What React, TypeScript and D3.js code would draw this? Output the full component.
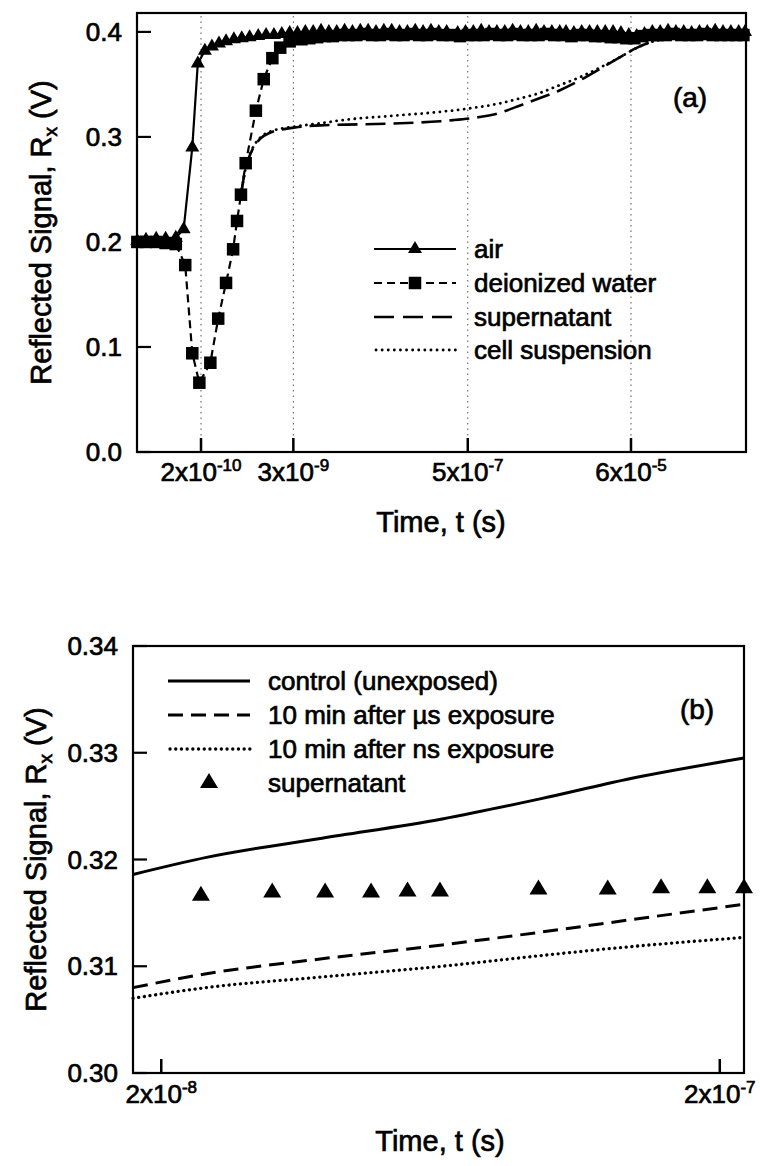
import React from "react";
import * as d3 from "d3";

// ---------------- Panel (a) data (time given as log10(t / s)) ----------------
const airLogT = [
  -10.51, -10.4, -10.27, -10.15, -10.02, -9.92, -9.81, -9.74, -9.65, -9.56, -9.47, -9.38, -9.28, -9.18, -9.08, -8.97, -8.87, -8.77, -8.67, -8.57,
  -8.47, -8.37, -8.27, -8.17, -8.07, -7.97, -7.87, -7.77, -7.67, -7.57, -7.47, -7.37, -7.27, -7.17, -7.07, -6.97, -6.87, -6.77, -6.67, -6.57,
  -6.43, -6.33, -6.23, -6.13, -6.03, -5.93, -5.83, -5.73, -5.63, -5.53, -5.43, -5.33, -5.23, -5.13, -5.05,
  -4.95, -4.85, -4.75, -4.65, -4.55, -4.45, -4.35, -4.25, -4.15, -4.05, -3.95, -3.85, -3.75, -3.65, -3.55, -3.45, -3.35, -3.25, -3.15, -3.05, -2.95, -2.85, -2.77,
];
const airV = [
  0.201, 0.202, 0.203, 0.203, 0.204, 0.212, 0.29, 0.37, 0.382, 0.386, 0.389, 0.391, 0.393, 0.394, 0.395, 0.396, 0.397, 0.397, 0.398, 0.399,
  0.399, 0.4, 0.4, 0.401, 0.4, 0.4, 0.401, 0.4, 0.401, 0.401, 0.4, 0.401, 0.401, 0.4, 0.4, 0.401, 0.4, 0.401, 0.4, 0.4,
  0.399, 0.4, 0.4, 0.401, 0.4, 0.4, 0.4, 0.401, 0.4, 0.4, 0.401, 0.4, 0.4, 0.4, 0.4,
  0.399, 0.4, 0.4, 0.4, 0.4, 0.4, 0.399, 0.397, 0.396, 0.398, 0.4, 0.4, 0.401, 0.4, 0.4, 0.399, 0.4, 0.4, 0.401, 0.4, 0.4, 0.4, 0.4,
];

const waterLogT = [
  -10.51, -10.4, -10.27, -10.15, -10.02, -9.9, -9.81, -9.72, -9.58, -9.48, -9.38, -9.29, -9.24, -9.19, -9.13, -9.0, -8.9, -8.79, -8.69, -8.57,
  -8.42, -8.32, -8.22, -8.12, -8.02, -7.92, -7.82, -7.72, -7.62, -7.52, -7.42, -7.32, -7.22, -7.12, -7.02, -6.92, -6.82, -6.72, -6.62, -6.52,
  -6.4, -6.3, -6.2, -6.1, -6.0, -5.9, -5.8, -5.7, -5.6, -5.5, -5.4, -5.3, -5.2, -5.1,
  -4.98, -4.88, -4.78, -4.68, -4.58, -4.48, -4.38, -4.28, -4.18, -4.08, -3.98, -3.88, -3.78, -3.68, -3.58, -3.48, -3.38, -3.28, -3.18, -3.08, -2.98, -2.88, -2.79,
];
const waterV = [
  0.2, 0.2, 0.2, 0.199, 0.198, 0.178, 0.094, 0.066, 0.085, 0.127, 0.161, 0.193, 0.22, 0.245, 0.275, 0.325, 0.355, 0.375, 0.385, 0.391,
  0.393, 0.394, 0.395, 0.396, 0.396, 0.397, 0.397, 0.397, 0.398, 0.397, 0.397, 0.398, 0.397, 0.397, 0.398, 0.397, 0.397, 0.398, 0.397, 0.397,
  0.396, 0.397, 0.397, 0.397, 0.398, 0.397, 0.397, 0.398, 0.397, 0.397, 0.397, 0.398, 0.397, 0.397,
  0.396, 0.397, 0.397, 0.396, 0.396, 0.395, 0.395, 0.394, 0.394, 0.396, 0.397, 0.397, 0.397, 0.398, 0.397, 0.397, 0.397, 0.398, 0.397, 0.397, 0.397, 0.397, 0.397,
];

const superLogT = [-9.19, -9.125, -9.05, -8.95, -8.82, -8.67, -8.5, -8.18, -7.67, -7.16, -6.65, -6.49, -6.15, -5.89, -5.67, -5.38, -5.14, -4.87, -4.59, -4.36, -4.17, -3.98, -3.6, -2.76];
const superV = [0.245, 0.272, 0.287, 0.298, 0.304, 0.307, 0.309, 0.311, 0.312, 0.313, 0.315, 0.316, 0.319, 0.323, 0.329, 0.337, 0.344, 0.354, 0.366, 0.376, 0.384, 0.39, 0.395, 0.397];

const cellLogT = [-9.19, -9.125, -9.05, -8.95, -8.82, -8.67, -8.5, -8.18, -7.9, -7.29, -6.78, -6.3, -5.89, -5.67, -5.38, -5.14, -4.87, -4.59, -4.36, -4.17, -3.98, -3.6, -2.76];
const cellV = [0.245, 0.272, 0.288, 0.299, 0.305, 0.308, 0.31, 0.313, 0.316, 0.32, 0.323, 0.327, 0.332, 0.336, 0.342, 0.349, 0.357, 0.367, 0.376, 0.384, 0.39, 0.395, 0.397];

const aXTicks = [2e-10, 3e-9, 5e-7, 6e-5];
const aXTickBase = ["2x10", "3x10", "5x10", "6x10"];
const aXTickExp = ["-10", "-9", "-7", "-5"];
const aYTicks = [0, 0.1, 0.2, 0.3, 0.4];
const aLegend = ["air", "deionized water", "supernatant", "cell suspension"];

// ---------------- Panel (b) data (time in seconds) ----------------
const bT = [1.78e-8, 2.41e-8, 3.88e-8, 6.37e-8, 9.58e-8, 1.36e-7, 2.21e-7];
const controlV = [0.3186, 0.3202, 0.322, 0.3238, 0.3257, 0.3275, 0.3295];
const usV = [0.308, 0.3093, 0.3107, 0.312, 0.3132, 0.3143, 0.3158];
const nsV = [0.307, 0.308, 0.309, 0.31, 0.311, 0.3118, 0.3127];
const bSupT = [2.355e-8, 3.16e-8, 3.93e-8, 4.75e-8, 5.52e-8, 6.31e-8, 9.47e-8, 1.26e-7, 1.57e-7, 1.9e-7, 2.21e-7];
const bSupV = [0.3166, 0.3169, 0.3169, 0.3169, 0.317, 0.317, 0.3172, 0.3172, 0.3173, 0.3173, 0.3173];

const bXTicks = [2e-8, 2e-7];
const bXTickBase = ["2x10", "2x10"];
const bXTickExp = ["-8", "-7"];
const bYTicks = [0.3, 0.31, 0.32, 0.33, 0.34];
const bLegend = ["control (unexposed)", "10 min after \u00b5s exposure", "10 min after ns exposure", "supernatant"];

const FONT = "'Liberation Sans', Arial, Helvetica, sans-serif";
const TXT = { fill: "#000", stroke: "#000", strokeWidth: 0.7 };

type P = [number, number];
const zipLog = (ts: number[], vs: number[]): P[] => ts.map((e, i) => [Math.pow(10, e), vs[i]] as P);
const zip = (ts: number[], vs: number[]): P[] => ts.map((t, i) => [t, vs[i]] as P);
const tri = (w: number, h: number) => `M0,${(-h * 2) / 3}L${w / 2},${h / 3}L${-w / 2},${h / 3}Z`;

export default function App() {
  // scales panel (a)
  const ax = d3.scaleLog().domain([3.06e-11, 1.75e-3]).range([137, 746]);
  const ay = d3.scaleLinear().domain([0, 0.418]).range([452, 13]);
  // scales panel (b)
  const bx = d3.scaleLog().domain([1.78e-8, 2.21e-7]).range([133, 744]);
  const by = d3.scaleLinear().domain([0.3, 0.34]).range([1073, 646]);

  const air = zipLog(airLogT, airV);
  const water = zipLog(waterLogT, waterV);
  const sup = zipLog(superLogT, superV);
  const cell = zipLog(cellLogT, cellV);

  const lineA = d3.line<P>().x((d) => ax(d[0])).y((d) => ay(d[1]));
  const lineAS = d3.line<P>().x((d) => ax(d[0])).y((d) => ay(d[1])).curve(d3.curveMonotoneX);
  const lineB = d3.line<P>().x((d) => bx(d[0])).y((d) => by(d[1])).curve(d3.curveMonotoneX);

  const ctrl = zip(bT, controlV);
  const us = zip(bT, usV);
  const ns = zip(bT, nsV);
  const bsup = zip(bSupT, bSupV);

  const aLeft = 137, aRight = 746, aTop = 13, aBottom = 452;
  const bLeft = 133, bRight = 744, bTop = 646, bBottom = 1073;

  const tickLen = 14;
  const legAy = [249, 283, 317, 350];
  const legBy = [681, 715, 749, 783];
  const SQ = 12.5;

  return (
    <svg
      width={760}
      height={1166}
      viewBox="0 0 760 1166"
      style={{ position: "absolute", left: 0, top: 0, background: "#fff" }}
      fontFamily={FONT}
    >
      <rect x={0} y={0} width={760} height={1166} fill="#fff" />

      {/* ================= Panel (a) ================= */}
      {aXTicks.map((t, i) => (
        <line key={"g" + i} x1={ax(t)} x2={ax(t)} y1={aBottom} y2={aTop} stroke="#555" strokeWidth={1} strokeDasharray="1.5,4" />
      ))}
      <path d={lineAS(cell) || ""} fill="none" stroke="#000" strokeWidth={2.8} strokeDasharray="0.1,6" strokeLinecap="round" />
      <path d={lineAS(sup) || ""} fill="none" stroke="#000" strokeWidth={2.6} strokeDasharray="20,8" />
      <path d={lineA(water) || ""} fill="none" stroke="#000" strokeWidth={2.2} strokeDasharray="8,5" />
      {water.map((d, i) => (
        <rect key={"w" + i} x={ax(d[0]) - SQ / 2} y={ay(d[1]) - SQ / 2} width={SQ} height={SQ} fill="#000" />
      ))}
      <path d={lineA(air) || ""} fill="none" stroke="#000" strokeWidth={2.2} />
      {air.map((d, i) => (
        <path key={"a" + i} d={tri(14, 12)} transform={`translate(${ax(d[0])},${ay(d[1])})`} fill="#000" />
      ))}

      <rect x={aLeft} y={aTop} width={aRight - aLeft} height={aBottom - aTop} fill="none" stroke="#000" strokeWidth={2.2} />
      {aYTicks.map((v, i) => (
        <g key={"ay" + i}>
          <line x1={aLeft} x2={aLeft + tickLen} y1={ay(v)} y2={ay(v)} stroke="#000" strokeWidth={2.2} />
          <text x={122} y={ay(v) + 9} textAnchor="end" fontSize={26} {...TXT}>
            {d3.format(".1f")(v)}
          </text>
        </g>
      ))}
      {aXTicks.map((t, i) => (
        <g key={"ax" + i}>
          <line x1={ax(t)} x2={ax(t)} y1={aBottom} y2={aBottom - tickLen} stroke="#000" strokeWidth={2.5} />
          <text x={ax(t)} y={aBottom + 29} textAnchor="middle" fontSize={26} {...TXT}>
            {aXTickBase[i]}
            <tspan dy={-10} fontSize={17}>
              {aXTickExp[i]}
            </tspan>
          </text>
        </g>
      ))}
      <text x={441} y={aBottom + 80} textAnchor="middle" fontSize={29} {...TXT}>
        Time, t (s)
      </text>
      <text transform={`translate(51,${(aTop + aBottom) / 2}) rotate(-90)`} textAnchor="middle" fontSize={29} {...TXT}>
        Reflected Signal, R
        <tspan dy={6} fontSize={19}>
          x
        </tspan>
        <tspan dy={-6}> (V)</tspan>
      </text>
      <text x={690} y={107} textAnchor="middle" fontSize={28} {...TXT}>
        (a)
      </text>
      <g>
        <line x1={374} x2={456} y1={legAy[0]} y2={legAy[0]} stroke="#000" strokeWidth={2.2} />
        <path d={tri(14, 12)} transform={`translate(415,${legAy[0]})`} fill="#000" />
        <line x1={374} x2={456} y1={legAy[1]} y2={legAy[1]} stroke="#000" strokeWidth={2.2} strokeDasharray="8,5" />
        <rect x={415 - SQ / 2} y={legAy[1] - SQ / 2} width={SQ} height={SQ} fill="#000" />
        <line x1={374} x2={456} y1={legAy[2]} y2={legAy[2]} stroke="#000" strokeWidth={2.6} strokeDasharray="20,9" />
        <line x1={376} x2={456} y1={legAy[3]} y2={legAy[3]} stroke="#000" strokeWidth={2.8} strokeDasharray="0.1,6" strokeLinecap="round" />
        {aLegend.map((s, i) => (
          <text key={"la" + i} x={474} y={legAy[i] + 9} fontSize={26} {...TXT}>
            {s}
          </text>
        ))}
      </g>

      {/* ================= Panel (b) ================= */}
      <path d={lineB(ctrl) || ""} fill="none" stroke="#000" strokeWidth={3} />
      <path d={lineB(us) || ""} fill="none" stroke="#000" strokeWidth={3} strokeDasharray="15,8" />
      <path d={lineB(ns) || ""} fill="none" stroke="#000" strokeWidth={3.3} strokeDasharray="0.1,5.6" strokeLinecap="round" />
      {bsup.map((d, i) => (
        <path key={"bs" + i} d={tri(18, 15)} transform={`translate(${bx(d[0])},${by(d[1])})`} fill="#000" />
      ))}
      <rect x={bLeft} y={bTop} width={bRight - bLeft} height={bBottom - bTop} fill="none" stroke="#000" strokeWidth={2.2} />
      {bYTicks.map((v, i) => (
        <g key={"by" + i}>
          <line x1={bLeft} x2={bLeft + tickLen} y1={by(v)} y2={by(v)} stroke="#000" strokeWidth={2.2} />
          <text x={118} y={by(v) + 9} textAnchor="end" fontSize={26} {...TXT}>
            {d3.format(".2f")(v)}
          </text>
        </g>
      ))}
      {bXTicks.map((t, i) => (
        <g key={"bx" + i}>
          <line x1={bx(t)} x2={bx(t)} y1={bBottom} y2={bBottom - tickLen} stroke="#000" strokeWidth={2.5} />
          <text x={bx(t)} y={bBottom + 30} textAnchor="middle" fontSize={26} {...TXT}>
            {bXTickBase[i]}
            <tspan dy={-10} fontSize={17}>
              {bXTickExp[i]}
            </tspan>
          </text>
        </g>
      ))}
      <text x={440} y={bBottom + 78} textAnchor="middle" fontSize={29} {...TXT}>
        Time, t (s)
      </text>
      <text transform={`translate(46,${(bTop + bBottom) / 2}) rotate(-90)`} textAnchor="middle" fontSize={29} {...TXT}>
        Reflected Signal, R
        <tspan dy={6} fontSize={19}>
          x
        </tspan>
        <tspan dy={-6}> (V)</tspan>
      </text>
      <text x={697} y={719} textAnchor="middle" fontSize={28} {...TXT}>
        (b)
      </text>
      <g>
        <line x1={168} x2={250} y1={legBy[0]} y2={legBy[0]} stroke="#000" strokeWidth={3} />
        <line x1={168} x2={250} y1={legBy[1]} y2={legBy[1]} stroke="#000" strokeWidth={3} strokeDasharray="15,8" />
        <line x1={170} x2={250} y1={legBy[2]} y2={legBy[2]} stroke="#000" strokeWidth={3.3} strokeDasharray="0.1,5.6" strokeLinecap="round" />
        <path d={tri(18, 15)} transform={`translate(209,${legBy[3]})`} fill="#000" />
        {bLegend.map((s, i) => (
          <text key={"lb" + i} x={268} y={legBy[i] + 9} fontSize={26} {...TXT}>
            {s}
          </text>
        ))}
      </g>
    </svg>
  );
}
